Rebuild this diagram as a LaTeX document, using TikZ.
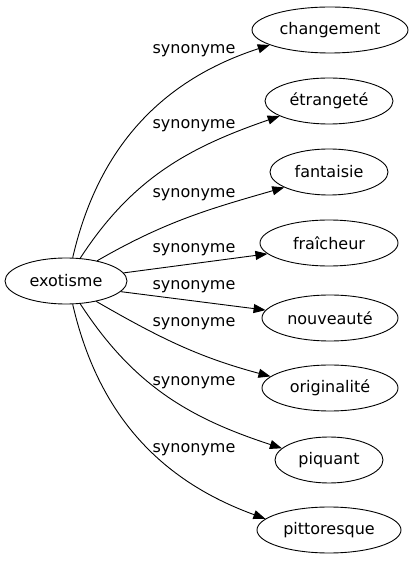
\documentclass[tikz,border=0pt]{standalone}
\usepackage{fontspec}
\setmainfont{DejaVu Sans}
\usetikzlibrary{arrows.meta, shapes.geometric, positioning}

\begin{document}
\begin{tikzpicture}[x=1pt, y=1pt, font=\fontsize{16}{19}\selectfont,
                    word/.style={ellipse, draw, line width=0.9pt, minimum height=46pt, inner sep=0pt},
                    syn/.style={inner sep=0pt},
                    rel/.style={line width=0.9pt, -{Triangle[length=12pt, width=9pt]}}]
                    \useasboundingbox (0,0) rectangle (412,563);
                    \node[word, minimum width=122pt](exotisme) at (66,282){exotisme};
                    \node[word, minimum width=156pt](changement) at (330,533){changement};
                    \node[word, minimum width=128pt](etrangete) at (329,462){étrangeté};
                    \node[word, minimum width=118pt](fantaisie) at (329,391){fantaisie};
                    \node[word, minimum width=138pt](fraicheur) at (329,320){fraîcheur};
                    \node[word, minimum width=136pt](nouveaute) at (330,245){nouveauté};
                    \node[word, minimum width=136pt](originalite) at (330,175){originalité};
                    \node[word, minimum width=108pt](piquant) at (329,103){piquant};
                    \node[word, minimum width=144pt](pittoresque) at (329,33){pittoresque};
                    \node[syn](s1) at (194,512){synonyme};
                    \node[syn](s2) at (194,437){synonyme};
                    \node[syn](s3) at (194,368){synonyme};
                    \node[syn](s4) at (194,313){synonyme};
                    \node[syn](s5) at (194,276.5){synonyme};
                    \node[syn](s6) at (194,239){synonyme};
                    \node[syn](s7) at (194,180.5){synonyme};
                    \node[syn](s8) at (194,113){synonyme};
                    \draw[rel] (exotisme.74) to [out=77, in=198] (changement.194);
                    \draw[rel] (exotisme.58) to [out=57, in=199] (etrangete.197);
                    \draw[rel] (exotisme.33) to [out=30, in=196] (fantaisie.199);
                    \draw[rel] (exotisme.8) -- (fraicheur.190);
                    \draw[rel] (exotisme.-11) -- (nouveaute.173);
                    \draw[rel] (exotisme.-34) to [out=-30, in=165] (originalite.169);
                    \draw[rel] (exotisme.-58) to [out=-57, in=162] (piquant.166);
                    \draw[rel] (exotisme.-74) to [out=-77, in=160] (pittoresque.170);
                \end{tikzpicture}
\end{document}
